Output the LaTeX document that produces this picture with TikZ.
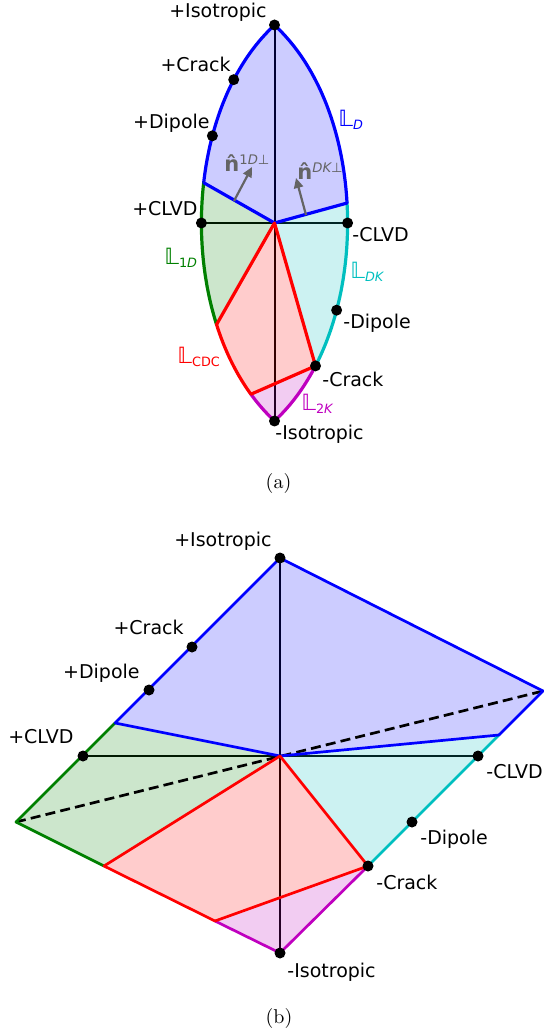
\documentclass[tikz,border=0pt]{standalone}
\usepackage{fontspec}
\usetikzlibrary{arrows.meta}
\newfontfamily\dv{DejaVu Sans}[ItalicFont={DejaVu Sans Oblique},BoldFont={DejaVu Sans Bold}]
\definecolor{mb}{rgb}{0,0,1}
\definecolor{mg}{rgb}{0,0.5,0}
\definecolor{mr}{rgb}{1,0,0}
\definecolor{mc}{rgb}{0,0.75,0.75}
\definecolor{mm}{rgb}{0.75,0,0.75}
\definecolor{ngray}{RGB}{100,100,100}
\newcommand\lsub[1]{\raisebox{-1.3pt}{\fontsize{6.4}{7}\selectfont #1}}
\newcommand\lsup[1]{\raisebox{3.6pt}{\fontsize{6.6}{7}\selectfont #1}}
\newcommand\bbL{{\fontsize{11.2}{12}\selectfont 𝕃}}
\tikzset{
  declare function={
    hx(\la,\ph)=2*sqrt(2)*cos(\ph)*sin(\la/2)/sqrt(1+cos(\ph)*cos(\la/2));
    hy(\la,\ph)=sqrt(2)*sin(\ph)/sqrt(1+cos(\ph)*cos(\la/2));
  },
  lune/.style n args={3}{insert path={-- plot[domain=#2:#3,samples=40,variable=\t] ({274.5+140*hx(#1,\t)},{223-140*hy(#1,\t)})}},
  lbl/.style={font=\dv\fontsize{9.5}{11}\selectfont, inner sep=0pt},
  captxt/.style={font=\fontsize{10}{12}\selectfont, inner sep=0pt, anchor=base},
  dot/.style={circle, fill=black, inner sep=0pt, minimum size=5.5pt},
  blk/.style={draw=black, line width=1pt},
  blkb/.style={draw=black, line width=1.15pt},
  cl/.style={draw=#1, line width=1.6pt, line join=round, line cap=round},
  clb/.style={draw=#1, line width=1.35pt, line join=round, line cap=round},
  cf/.style={fill=#1, fill opacity=0.2},
  narr/.style={draw=ngray, line width=1.1pt, -{Triangle[length=5pt,width=4.6pt]}},
}
\begin{document}
\begin{tikzpicture}[x=0.5pt,y=-0.5pt]
\useasboundingbox (0,0) rectangle (544,1036);
% ---------------- (a) ----------------
\coordinate (aT) at (274.5,25);
\coordinate (aB) at (274.5,421);
\coordinate (aC) at (274.5,223);
\coordinate (aPC) at ({274.5+140*hx(-30,0)},223);
\coordinate (aMC) at ({274.5+140*hx(30,0)},223);
\coordinate (aPK) at ({274.5+140*hx(-30,61.2)},{223-140*hy(-30,61.2)});
\coordinate (aPD) at ({274.5+140*hx(-30,36)},{223-140*hy(-30,36)});
\coordinate (aMD) at ({274.5+140*hx(30,-36)},{223-140*hy(30,-36)});
\coordinate (aMK) at ({274.5+140*hx(30,-61)},{223-140*hy(30,-61)});
\coordinate (aBL) at ({274.5+140*hx(-30,16.4)},{223-140*hy(-30,16.4)});
\coordinate (aBR) at ({274.5+140*hx(30,8.1)},{223-140*hy(30,8.1)});
\coordinate (aGR) at ({274.5+140*hx(-30,-42.2)},{223-140*hy(-30,-42.2)});
\coordinate (aRM) at ({274.5+140*hx(-30,-75.1)},{223-140*hy(-30,-75.1)});
% black axes
\draw[blk] (aT) -- (aB);
\draw[blk] (aPC) -- (aMC);
% fills
\fill[cf=mb] (aC) -- (aBL) [lune={-30}{16.4}{90}] [lune={30}{90}{8.1}] -- cycle;
\fill[cf=mg] (aC) -- (aBL) [lune={-30}{16.4}{-42.2}] -- cycle;
\fill[cf=mr] (aC) -- (aGR) [lune={-30}{-42.2}{-75.1}] -- (aMK) -- cycle;
\fill[cf=mc] (aC) -- (aBR) [lune={30}{8.1}{-61}] -- cycle;
\fill[cf=mm] (aRM) [lune={-30}{-75.1}{-90}] [lune={30}{-90}{-61}] -- cycle;
% boundary
\draw[cl=mb] (aBL) [lune={-30}{16.4}{90}] [lune={30}{90}{8.1}];
\draw[cl=mg] (aBL) [lune={-30}{16.4}{-42.2}];
\draw[cl=mr] (aGR) [lune={-30}{-42.2}{-75.1}];
\draw[cl=mm] (aRM) [lune={-30}{-75.1}{-90}] [lune={30}{-90}{-61}];
\draw[cl=mc] (aBR) [lune={30}{8.1}{-61}];
% interior lines
\draw[cl=mb] (aBL) -- (aC) -- (aBR);
\draw[cl=mr] (aGR) -- (aC) -- (aMK);
\draw[cl=mr] (aRM) -- (aMK);
% normal arrows
\coordinate (an1s) at (234,201);
\coordinate (an1e) at (252,167);
\coordinate (an2s) at (306,215);
\coordinate (an2e) at (296,178);
\draw[narr] (an1s) -- (an1e);
\draw[narr] (an2s) -- (an2e);
\node[lbl, anchor=base west, text=ngray, font=\dv\fontsize{10.5}{12}\selectfont] (n1) at (224,172) {{\bfseries\^{n}}\lsup{1\itshape D\upshape ⊥}};
\node[lbl, anchor=base west, text=ngray, font=\dv\fontsize{10.5}{12}\selectfont] (n2) at (297,180) {{\bfseries\^{n}}\lsup{\itshape DK\upshape ⊥}};
% dots
\foreach \p in {aT,aB,aPC,aMC,aPK,aPD,aMD,aMK} \node[dot] (d\p) at (\p) {};
% labels
\node[lbl,anchor=base east] (laT) at (267,18) {+Isotropic};
\node[lbl,anchor=base east] (laPK) at (231,72) {+Crack};
\node[lbl,anchor=base east] (laPD) at (210,129) {+Dipole};
\node[lbl,anchor=base east] (laPC) at (198,216) {+CLVD};
\node[lbl,anchor=base west] (laMC) at (352,242) {-CLVD};
\node[lbl,anchor=base west] (laMD) at (343,329) {-Dipole};
\node[lbl,anchor=base west] (laMK) at (322,387) {-Crack};
\node[lbl,anchor=base west] (laB) at (275,440) {-Isotropic};
\node[lbl,anchor=base west,text=mb] (lD) at (338,127) {\bbL\lsub{\itshape D}};
\node[lbl,anchor=base west,text=mg] (l1D) at (164,265) {\bbL\lsub{1\itshape D}};
\node[lbl,anchor=base west,text=mr] (lCDC) at (177,364) {\bbL\lsub{CDC}};
\node[lbl,anchor=base west,text=mc] (lDK) at (350,279) {\bbL\lsub{\itshape DK}};
\node[lbl,anchor=base west,text=mm] (l2K) at (301,411) {\bbL\lsub{2\itshape K}};
\node[captxt] (capa) at (278.5,488) {(a)};
% ---------------- (b) ----------------
\coordinate (bT) at (280,558);
\coordinate (bL) at (16,822);
\coordinate (bB) at (280,953);
\coordinate (bR) at (543,691);
\coordinate (bC) at (280,756);
\coordinate (bPK) at (192,647);
\coordinate (bPD) at (149,690);
\coordinate (bBL) at (115,723);
\coordinate (bPC) at (83,756);
\coordinate (bGR) at (104,866);
\coordinate (bRM) at (215,921);
\coordinate (bMK) at (368,866);
\coordinate (bMD) at (412,822);
\coordinate (bMC) at (478,756);
\coordinate (bBR) at (499,735);
\draw[blkb] (bT) -- (bB);
\draw[blkb] (bPC) -- (bMC);
\fill[cf=mb] (bC) -- (bBL) -- (bT) -- (bR) -- (bBR) -- cycle;
\fill[cf=mg] (bC) -- (bBL) -- (bL) -- (bGR) -- cycle;
\fill[cf=mr] (bC) -- (bGR) -- (bRM) -- (bMK) -- cycle;
\fill[cf=mc] (bC) -- (bMK) -- (bBR) -- cycle;
\fill[cf=mm] (bRM) -- (bB) -- (bMK) -- cycle;
\draw[draw=black, line width=1.35pt, dash pattern=on 5pt off 2.6pt] (bL) -- (bR);
\draw[clb=mb] (bBR) -- (bR) -- (bT) -- (bBL);
\draw[clb=mg] (bBL) -- (bL) -- (bGR);
\draw[clb=mr] (bGR) -- (bRM);
\draw[clb=mm] (bRM) -- (bB) -- (bMK);
\draw[clb=mc] (bMK) -- (bBR);
\draw[clb=mb] (bBL) -- (bC) -- (bBR);
\draw[clb=mr] (bGR) -- (bC) -- (bMK);
\draw[clb=mr] (bRM) -- (bMK);
\foreach \p in {bT,bB,bPC,bMC,bPK,bPD,bMD,bMK} \node[dot] (d\p) at (\p) {};
\node[lbl,anchor=base east] (lbT) at (272,546) {+Isotropic};
\node[lbl,anchor=base east] (lbPK) at (184,634) {+Crack};
\node[lbl,anchor=base east] (lbPD) at (140,678) {+Dipole};
\node[lbl,anchor=base east] (lbPC) at (74,743) {+CLVD};
\node[lbl,anchor=base west] (lbMC) at (486,778) {-CLVD};
\node[lbl,anchor=base west] (lbMD) at (420,844) {-Dipole};
\node[lbl,anchor=base west] (lbMK) at (376,889) {-Crack};
\node[lbl,anchor=base west] (lbB) at (287,977) {-Isotropic};
\node[captxt] (capb) at (279,1023) {(b)};
\end{tikzpicture}
\end{document}
